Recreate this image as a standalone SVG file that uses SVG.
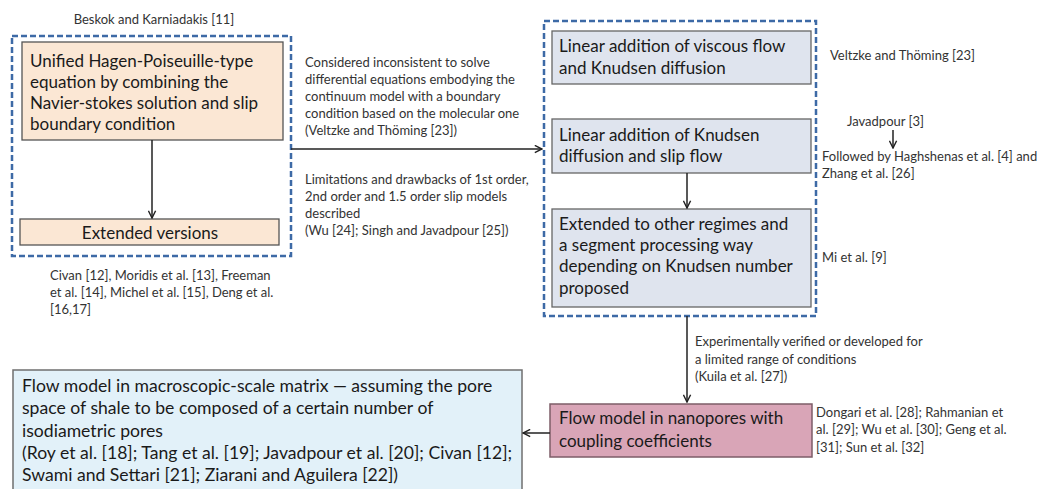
<svg xmlns="http://www.w3.org/2000/svg" width="1047" height="489" viewBox="0 0 1047 489">
<style>
.lbl{font-family:Lato,"Liberation Sans",sans-serif;font-size:13px;fill:#333}
.bt{font-family:Lato,"Liberation Sans",sans-serif;font-size:17px;fill:#1a1a1a}
.big{font-size:17.6px}
.dash{fill:none;stroke:#3d6aa6;stroke-width:2.5;stroke-dasharray:6 3}
.peach{fill:#fbe7d4;stroke:#555;stroke-width:1.3}
.grey{fill:#dfe4ee;stroke:#666;stroke-width:1.3}
.pink{fill:#d9a5b7;stroke:#7d5d68;stroke-width:1.5}
.lblue{fill:#e2f1f9;stroke:#6f6f6f;stroke-width:1.5}
.con{fill:none;stroke:#222;stroke-width:1.5}
</style>
<defs>
<marker id="ah" viewBox="0 0 10 10" refX="9" refY="5" markerWidth="9" markerHeight="9" markerUnits="userSpaceOnUse" orient="auto">
<path d="M1,1 L9,5 L1,9" fill="none" stroke="#222" stroke-width="1.6"/>
</marker>
</defs>
<rect id="group-left" class="dash" x="12" y="36" width="279" height="220"/>
<rect id="group-right" class="dash" x="544" y="21" width="272" height="295"/>
<g id="n-unified">
<rect class="peach" x="22" y="42" width="261" height="98"/>
<text class="bt" x="30" y="67">Unified Hagen-Poiseuille-type</text>
<text class="bt" x="30" y="88">equation by combining the</text>
<text class="bt" x="30" y="109">Navier-stokes solution and slip</text>
<text class="bt" x="30" y="130">boundary condition</text>
</g>
<g id="n-extended">
<rect class="peach" x="20" y="219" width="259" height="26"/>
<text class="bt" x="150" y="239" text-anchor="middle">Extended versions</text>
</g>
<g id="n-linear1">
<rect class="grey" x="552" y="31" width="259" height="53"/>
<text class="bt" x="559" y="52">Linear addition of viscous flow</text>
<text class="bt" x="559" y="74">and Knudsen diffusion</text>
</g>
<g id="n-linear2">
<rect class="grey" x="552" y="119" width="259" height="54"/>
<text class="bt" x="559" y="141">Linear addition of Knudsen</text>
<text class="bt" x="559" y="162">diffusion and slip flow</text>
</g>
<g id="n-extended2">
<rect class="grey" x="552" y="209" width="259" height="98"/>
<text class="bt" x="559" y="230">Extended to other regimes and</text>
<text class="bt" x="559" y="251">a segment processing way</text>
<text class="bt" x="559" y="272">depending on Knudsen number</text>
<text class="bt" x="559" y="294">proposed</text>
</g>
<g id="n-nano">
<rect class="pink" x="550" y="404" width="262" height="53"/>
<text class="bt" x="559" y="424">Flow model in nanopores with</text>
<text class="bt" x="559" y="447">coupling coefficients</text>
</g>
<g id="n-macro">
<rect class="lblue" x="13" y="370" width="509" height="125"/>
<text class="bt big" x="22" y="392">Flow model in macroscopic-scale matrix — assuming the pore</text>
<text class="bt big" x="22" y="414">space of shale to be composed of a certain number of</text>
<text class="bt big" x="22" y="437">isodiametric pores</text>
<text class="bt big" x="22" y="459">(Roy et al. [18]; Tang et al. [19]; Javadpour et al. [20]; Civan [12];</text>
<text class="bt big" x="22" y="481">Swami and Settari [21]; Ziarani and Aguilera [22])</text>
</g>
<g id="connectors">
<line class="con" x1="152" y1="140" x2="152" y2="218" marker-end="url(#ah)"/>
<line class="con" x1="291" y1="149" x2="542" y2="149" marker-end="url(#ah)"/>
<line class="con" x1="687" y1="173" x2="687" y2="208" marker-end="url(#ah)"/>
<line class="con" x1="687" y1="316" x2="687" y2="402" marker-end="url(#ah)"/>
<line class="con" x1="550" y1="433" x2="523" y2="433" marker-end="url(#ah)"/>
<line class="con" x1="893" y1="130" x2="893" y2="148" marker-end="url(#ah)"/>
</g>
<g id="labels">
<text class="lbl" x="154" y="24" text-anchor="middle">Beskok and Karniadakis [11]</text>
<text class="lbl" x="305" y="67">Considered inconsistent to solve</text>
<text class="lbl" x="305" y="84">differential equations embodying the</text>
<text class="lbl" x="305" y="101">continuum model with a boundary</text>
<text class="lbl" x="305" y="118">condition based on the molecular one</text>
<text class="lbl" x="305" y="135">(Veltzke and Thöming [23])</text>
<text class="lbl" x="305" y="184">Limitations and drawbacks of 1st order,</text>
<text class="lbl" x="305" y="201">2nd order and 1.5 order slip models</text>
<text class="lbl" x="305" y="218">described</text>
<text class="lbl" x="305" y="235">(Wu [24]; Singh and Javadpour [25])</text>
<text class="lbl" x="50" y="280">Civan [12], Moridis et al. [13], Freeman</text>
<text class="lbl" x="50" y="297">et al. [14], Michel et al. [15], Deng et al.</text>
<text class="lbl" x="50" y="314">[16,17]</text>
<text class="lbl" x="830" y="60">Veltzke and Thöming [23]</text>
<text class="lbl" x="847" y="126">Javadpour [3]</text>
<text class="lbl" x="822" y="161">Followed by Haghshenas et al. [4] and</text>
<text class="lbl" x="822" y="178">Zhang et al. [26]</text>
<text class="lbl" x="822" y="262">Mi et al. [9]</text>
<text class="lbl" x="695" y="346">Experimentally verified or developed for</text>
<text class="lbl" x="695" y="364">a limited range of conditions</text>
<text class="lbl" x="695" y="381">(Kuila et al. [27])</text>
<text class="lbl" x="816" y="417">Dongari et al. [28]; Rahmanian et</text>
<text class="lbl" x="816" y="434">al. [29]; Wu et al. [30]; Geng et al.</text>
<text class="lbl" x="816" y="452">[31]; Sun et al. [32]</text>
</g>
</svg>
